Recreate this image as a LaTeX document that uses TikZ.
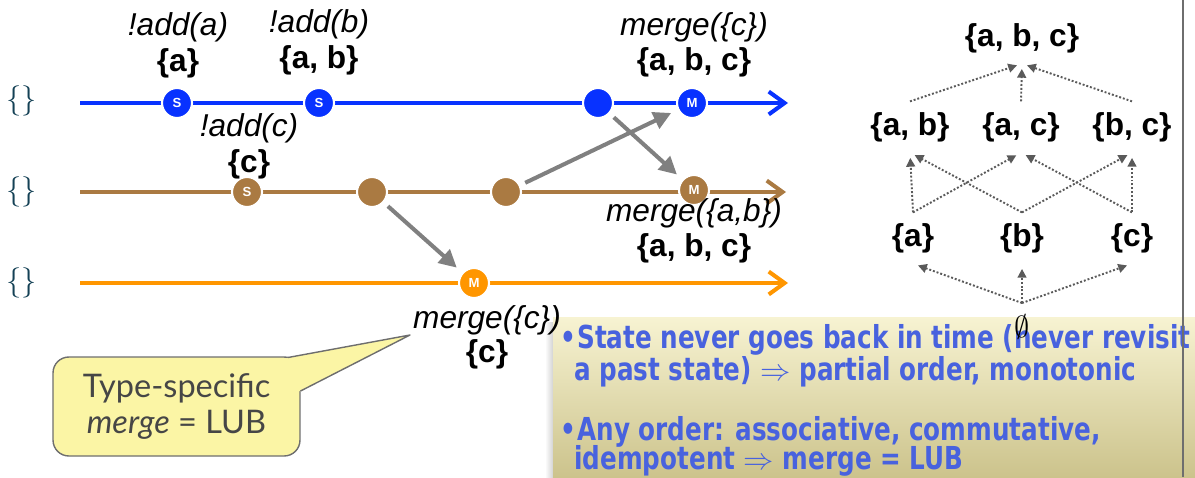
\documentclass[tikz,border=0pt]{standalone}
\usepackage{fontspec}
\setmainfont{Liberation Sans}
\newfontfamily\gillfont{Lato}
\newfontfamily\chalkfont[FakeStretch=0.78]{DejaVu Sans}
\usetikzlibrary{arrows.meta}
\definecolor{bluec}{RGB}{8,50,255}
\definecolor{brownc}{RGB}{170,122,66}
\definecolor{orangec}{RGB}{255,150,0}
\definecolor{tealc}{RGB}{20,65,85}
\definecolor{flowc}{RGB}{128,128,128}
\definecolor{latc}{RGB}{90,90,90}
\definecolor{notec}{RGB}{251,245,165}
\definecolor{notedraw}{RGB}{110,110,110}
\definecolor{notetext}{RGB}{70,70,70}
\definecolor{chalkc}{RGB}{72,98,222}
\definecolor{padtop}{RGB}{247,243,210}
\definecolor{padbot}{RGB}{204,195,140}

\begin{document}
\begin{tikzpicture}[x=0.02cm,y=-0.02cm,
  oplbl/.style={font=\fontsize{18}{20}\selectfont\itshape},
  setlbl/.style={font=\fontsize{18}{20}\selectfont\bfseries},
  latnode/.style={setlbl,inner xsep=0pt,inner ysep=6pt},
  initlbl/.style={tealc,font=\fontsize{17}{17}\selectfont},
  replica/.style={line width=2.3pt,-{Straight Barb[length=9pt,width=13pt]}},
  ev/.style={circle,draw=white,line width=1.2pt,inner sep=0pt,minimum size=0.6cm,
    text=white,font=\fontsize{7.5}{8}\selectfont\bfseries},
  flow/.style={flowc,line width=2.3pt,-{Triangle[length=10pt,width=10pt]},
    shorten <=3pt,shorten >=4pt},
  latt/.style={latc,line width=1.1pt,dash pattern=on 1.1pt off 1.1pt,
    -{Triangle[length=5pt,width=5pt]},shorten >=3pt},
  chalk/.style={chalkc,font=\chalkfont\bfseries\fontsize{18}{20}\selectfont,
    inner sep=0pt,anchor=base west},
  notebox/.style={draw=notedraw,fill=notec,line width=0.8pt,rounded corners=9pt,
    minimum width=4.94cm,minimum height=1.98cm,align=center,text=notetext,
    font=\gillfont\fontsize{18.5}{21}\selectfont}]
  \useasboundingbox (0,0) rectangle (1195,477);

  % slide note, clipped at the right edge
  \fill[left color=white,right color=gray!35] (545,322) rectangle (553,477);
  \shade[top color=padtop,bottom color=padbot] (553,317) rectangle (1195,477);
  \begin{scope}
    \clip (553,317) rectangle (1195,477);
    \node[chalk,anchor=base east] (u1) at (577,348) {•};
    \node[chalk] (l1) at (577,348) {State never goes back in time (never revisit};
    \node[chalk] (l2) at (574,380) {a past state) $\Rightarrow$ partial order, monotonic};
    \node[chalk,anchor=base east] (u2) at (577,440) {•};
    \node[chalk] (l3) at (577,440) {Any order: associative, commutative,};
    \node[chalk] (l4) at (574,469) {idempotent $\Rightarrow$ merge = LUB};
  \end{scope}
  \draw[notedraw,line width=1.2pt] (1183,0) -- (1183,477);

  % replicas
  \node[initlbl] (ib) at (22,101) {$\{\}$};
  \node[initlbl] (ir) at (22,192) {$\{\}$};
  \node[initlbl] (io) at (22,283) {$\{\}$};
  \coordinate (bs) at (80,103);  \coordinate (be) at (788,103);
  \coordinate (rs) at (80,192);  \coordinate (re) at (786,192);
  \coordinate (os) at (80,283);  \coordinate (oe) at (788,283);
  \draw[replica,bluec] (bs) -- (be);
  \draw[replica,brownc] (rs) -- (re);
  \draw[replica,orangec] (os) -- (oe);

  \node[ev,fill=bluec] (b1) at (177,103) {S};
  \node[ev,fill=bluec] (b2) at (319,103) {S};
  \node[ev,fill=bluec] (b3) at (598,103) {};
  \node[ev,fill=bluec] (b4) at (692,103) {M};
  \node[ev,fill=brownc] (r1) at (247,192) {S};
  \node[ev,fill=brownc] (r2) at (372,192) {};
  \node[ev,fill=brownc] (r3) at (506,192) {};
  \node[ev,fill=brownc] (r4) at (694,190) {M};
  \node[ev,fill=orangec] (o1) at (474,283) {M};

  % state shipped between replicas
  \draw[flow] (r2) -- (o1);
  \draw[flow] (r3) -- (b4);
  \draw[flow] (b3) -- (r4);

  \node[oplbl] (opa) at (178,27) {!add(a)};
  \node[setlbl] (sta) at (178,63) {\{a\}};
  \node[oplbl] (opb) at (319,24) {!add(b)};
  \node[setlbl] (stb) at (319,60) {\{a, b\}};
  \node[oplbl] (opc) at (249,128) {!add(c)};
  \node[setlbl] (stc) at (249,164) {\{c\}};
  \node[oplbl] (mgb) at (694,27) {merge(\{c\})};
  \node[setlbl] (stmb) at (694,62) {\{a, b, c\}};
  \node[oplbl] (mgr) at (694,213) {merge(\{a,b\})};
  \node[setlbl] (stmr) at (694,248) {\{a, b, c\}};
  \node[oplbl] (mgo) at (487,320) {merge(\{c\})};
  \node[setlbl] (stmo) at (487,354) {\{c\}};

  % lattice of states
  \node[latnode] (abc) at (1022,38) {\{a, b, c\}};
  \node[latnode] (ab) at (910,127) {\{a, b\}};
  \node[latnode] (ac) at (1021,127) {\{a, c\}};
  \node[latnode] (bc) at (1132,127) {\{b, c\}};
  \node[latnode] (a) at (913,238) {\{a\}};
  \node[latnode] (b) at (1022,238) {\{b\}};
  \node[latnode] (c) at (1132,238) {\{c\}};
  \node[font=\fontsize{18}{18}\selectfont,inner sep=0pt] (none) at (1022,327) {$\emptyset$};
  \coordinate (bot) at (1022,303);
  \foreach \u in {ab,ac,bc} \draw[latt] (\u.north) -- (abc.south);
  \draw[latt] (a.north) -- (ab.south);
  \draw[latt] (a.north) -- (ac.south);
  \draw[latt] (b.north) -- (ab.south);
  \draw[latt] (b.north) -- (bc.south);
  \draw[latt] (c.north) -- (ac.south);
  \draw[latt] (c.north) -- (bc.south);
  \foreach \u in {a,b,c} \draw[latt] (bot) -- (\u.south);

  % callout
  \node[notebox] (note) at (176.5,406.5) {Type-specific\\\textit{merge} = LUB};
  \coordinate (tip) at (410,335);
  \fill[notec] (288,357.5) -- (tip) -- (301,391) -- (290,391) -- (284,362) -- cycle;
  \draw[notedraw,line width=0.8pt,line join=round] (288,357.5) -- (tip) -- (300.5,391);
\end{tikzpicture}
\end{document}
